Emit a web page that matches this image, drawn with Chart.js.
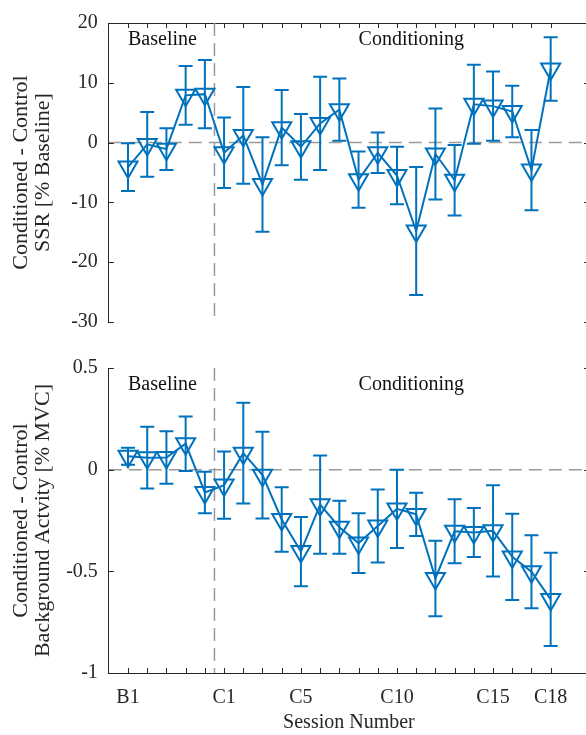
<!DOCTYPE html>
<html>
<head>
<meta charset="utf-8">
<script src="https://cdn.jsdelivr.net/npm/chart.js@4.4.1/dist/chart.umd.min.js"></script>
<style>
  html, body { margin: 0; padding: 0; background: #fff; overflow: hidden; width: 586px; height: 735px; }
  canvas { position: absolute; left: 0; }
  #top { top: 0; }
  #bottom { top: 345px; }
</style>
</head>
<body>
<canvas id="top" width="592" height="345"></canvas>
<canvas id="bottom" width="592" height="390"></canvas>
<script>
// sessions B1..B5 then C1..C18
const sessions = ["B1", "B2", "B3", "B4", "B5",
  "C1", "C2", "C3", "C4", "C5", "C6", "C7", "C8", "C9", "C10",
  "C11", "C12", "C13", "C14", "C15", "C16", "C17", "C18"];
const shownTicks = ["B1", "C1", "C5", "C10", "C15", "C18"];

// SSR, conditioned - control [% baseline], mean and error
const ssrMean = [-4.1, -0.3, -1.1, 7.9, 8.1, -1.7, 1.2, -7.0, 2.5, -0.7, 3.2, 5.5,
  -6.2, -1.7, -5.5, -14.8, -1.9, -6.3, 6.4, 6.1, 5.2, -4.6, 12.3];
const ssrErr = [4.0, 5.4, 3.5, 4.9, 5.7, 5.9, 8.1, 7.9, 6.3, 5.5, 7.8, 5.2,
  4.7, 3.4, 4.8, 10.7, 7.6, 5.9, 6.6, 5.8, 4.3, 6.7, 5.3];

// background activity, conditioned - control [% MVC]
const bgMean = [0.066, 0.059, 0.060, 0.128, -0.112, -0.076, 0.081, -0.027, -0.245, -0.403, -0.172, -0.283,
  -0.361, -0.277, -0.193, -0.220, -0.535, -0.303, -0.309, -0.301, -0.429, -0.502, -0.638];
const bgErr = [0.042, 0.152, 0.129, 0.134, 0.102, 0.165, 0.248, 0.213, 0.159, 0.170, 0.242, 0.130,
  0.147, 0.179, 0.192, 0.106, 0.186, 0.157, 0.121, 0.224, 0.212, 0.179, 0.229];

const phaseText = ["Baseline", "Conditioning"];
const phaseStart = [1, 13];
const splitAt = 5.5;

const BLUE = "#0072BD";
const AXIS = "#262626";
const FONT = "'Liberation Serif', 'Times New Roman', serif";

Chart.defaults.font.family = FONT;
Chart.defaults.color = AXIS;

const panel = {
  id: "panel",
  beforeDatasetsDraw(chart, args, opts) {
    const { ctx, chartArea: a, scales: { x, y } } = chart;
    ctx.save();
    ctx.beginPath();
    ctx.rect(a.left, a.top, a.right - a.left, a.bottom - a.top);
    ctx.clip();
    // reference lines
    ctx.strokeStyle = "#9a9a9a";
    ctx.lineWidth = 1.5;
    ctx.setLineDash([13, 7]);
    ctx.beginPath();
    const y0 = y.getPixelForValue(0);
    ctx.moveTo(a.left, y0);
    ctx.lineTo(a.right, y0);
    const xs = x.getPixelForValue(splitAt);
    ctx.moveTo(xs, a.top);
    ctx.lineTo(xs, a.bottom);
    ctx.stroke();
    ctx.setLineDash([]);
    // error bars
    ctx.strokeStyle = BLUE;
    ctx.lineWidth = 2;
    opts.mean.forEach((m, i) => {
      const px = x.getPixelForValue(i + 1);
      const hi = y.getPixelForValue(m + opts.err[i]);
      const lo = y.getPixelForValue(m - opts.err[i]);
      ctx.beginPath();
      ctx.moveTo(px, hi); ctx.lineTo(px, lo);
      ctx.moveTo(px - 7, hi); ctx.lineTo(px + 7, hi);
      ctx.moveTo(px - 7, lo); ctx.lineTo(px + 7, lo);
      ctx.stroke();
    });
    ctx.restore();
  },
  afterDraw(chart, args, opts) {
    const { ctx, chartArea: a, scales: { x, y } } = chart;
    ctx.save();
    ctx.strokeStyle = AXIS;
    ctx.lineWidth = 1;
    ctx.beginPath();
    y.ticks.forEach(t => {
      const py = Math.round(y.getPixelForValue(t.value)) + 0.5;
      ctx.moveTo(a.left, py); ctx.lineTo(a.left + 5, py);
      ctx.moveTo(a.right - 5, py); ctx.lineTo(a.right, py);
    });
    sessions.forEach((s, i) => {
      const px = Math.round(x.getPixelForValue(i + 1)) + 0.5;
      if (opts.edge === "top") {
        ctx.moveTo(px, a.top); ctx.lineTo(px, a.top + 5);
      } else {
        ctx.moveTo(px, a.bottom); ctx.lineTo(px, a.bottom - 5);
      }
    });
    ctx.stroke();
    // phase labels
    ctx.fillStyle = "#111";
    ctx.font = "20px " + FONT;
    ctx.textAlign = "left";
    ctx.textBaseline = "middle";
    phaseText.forEach((txt, i) => {
      ctx.fillText(txt, x.getPixelForValue(phaseStart[i]), y.getPixelForValue(opts.labelY));
    });
    ctx.restore();
  }
};

function points(mean) {
  return mean.map((v, i) => ({ x: i + 1, y: v }));
}

function dataset(mean) {
  return {
    data: points(mean),
    borderColor: BLUE,
    borderWidth: 2,
    tension: 0,
    pointStyle: "triangle",
    pointRotation: 180,
    pointRadius: 11,
    pointBorderWidth: 2,
    pointBorderColor: BLUE,
    pointBackgroundColor: "rgba(0,0,0,0)"
  };
}

const plainNum = v => String(Number(v.toFixed(2)));

const topChart = new Chart(document.getElementById("top"), {
  type: "line",
  data: { datasets: [dataset(ssrMean)] },
  plugins: [panel],
  options: {
    responsive: false,
    animation: false,
    events: [],
    layout: { autoPadding: false, padding: { top: 17, right: 2.9, bottom: 19, left: 0 } },
    plugins: {
      legend: { display: false },
      tooltip: { enabled: false },
      panel: { mean: ssrMean, err: ssrErr, edge: "top", labelY: 17.2 }
    },
    scales: {
      x: {
        type: "linear", position: "top", min: 0, max: 25,
        ticks: { display: false },
        grid: { display: false, drawTicks: false },
        border: { display: true, color: AXIS, width: 1 },
        afterFit: s => { s.height = 0; s.paddingLeft = 0; s.paddingRight = 0; }
      },
      y: {
        min: -30, max: 20,
        ticks: { stepSize: 10, padding: 11, color: AXIS, font: { size: 20 }, callback: plainNum },
        grid: { display: false, drawTicks: false },
        border: { display: true, color: AXIS, width: 1 },
        title: {
          display: true, text: ["Conditioned - Control", "SSR [% Baseline]"],
          color: AXIS, font: { size: 22, lineHeight: 0.97 }, padding: { top: 11, bottom: 0 }
        },
        afterFit: s => { s.width = 108.8; }
      }
    }
  }
});

const bottomChart = new Chart(document.getElementById("bottom"), {
  type: "line",
  data: { datasets: [dataset(bgMean)] },
  plugins: [panel],
  options: {
    responsive: false,
    animation: false,
    events: [],
    layout: { autoPadding: false, padding: { top: 17, right: 2.9, bottom: 0, left: 0 } },
    plugins: {
      legend: { display: false },
      tooltip: { enabled: false },
      panel: { mean: bgMean, err: bgErr, edge: "bottom", labelY: 0.42 }
    },
    scales: {
      x: {
        type: "linear", position: "bottom", min: 0, max: 25,
        ticks: {
          stepSize: 1, autoSkip: false, maxRotation: 0, padding: 13,
          color: AXIS, font: { size: 20 },
          callback: v => {
            const s = sessions[v - 1];
            return s && shownTicks.includes(s) ? s : "";
          }
        },
        grid: { display: false, drawTicks: false },
        border: { display: true, color: AXIS, width: 1 },
        title: {
          display: true, text: "Session Number", color: AXIS,
          font: { size: 20, lineHeight: 1.2 }, padding: { top: 0, bottom: 0 }
        },
        afterFit: s => { s.height = 62; s.paddingLeft = 0; s.paddingRight = 0; }
      },
      y: {
        min: -1, max: 0.5,
        ticks: { stepSize: 0.5, padding: 11, color: AXIS, font: { size: 20 }, callback: plainNum },
        grid: { display: false, drawTicks: false },
        border: { display: true, color: AXIS, width: 1 },
        title: {
          display: true, text: ["Conditioned - Control", "Background Actvity [% MVC]"],
          color: AXIS, font: { size: 22, lineHeight: 0.97 }, padding: { top: 11, bottom: 0 }
        },
        afterFit: s => { s.width = 108.8; }
      }
    }
  }
});
</script>
</body>
</html>
